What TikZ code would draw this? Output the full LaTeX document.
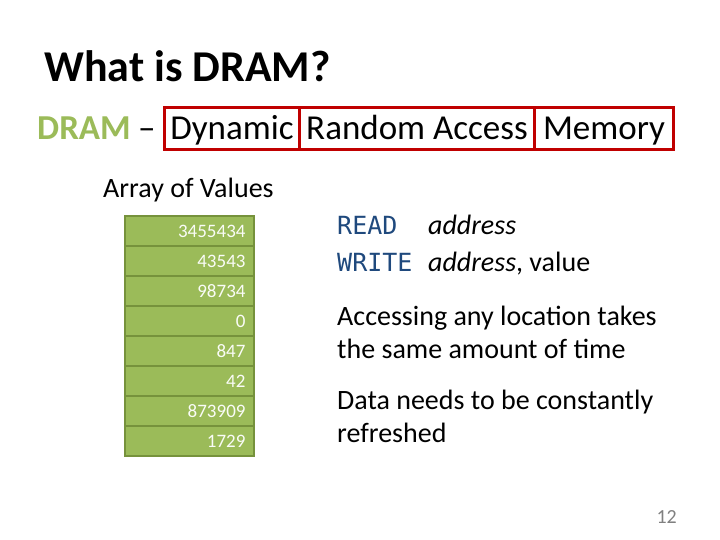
\documentclass[tikz,border=0pt]{standalone}
\usepackage{fontspec}
\setmainfont{Carlito}
\setmonofont{DejaVu Sans Mono}
\definecolor{dgreen}{HTML}{9BBB59}
\definecolor{bgreen}{HTML}{76923C}
\definecolor{dred}{HTML}{C00000}
\definecolor{dblue}{HTML}{1F497D}
\begin{document}
\begin{tikzpicture}[x=1pt,y=-1pt,
  cell/.style={draw=bgreen,line width=2.5pt,fill=dgreen,minimum width=129pt,minimum height=30pt,inner sep=0pt,text width=112pt,align=right,text=white!95!dgreen,font=\fontsize{19}{19}\selectfont},
  rbox/.style={draw=dred,line width=3pt,minimum height=42pt,inner sep=0pt,anchor=west},
  boxtext/.style={anchor=base,inner sep=0pt,font=\fontsize{35}{35}\selectfont},
  body/.style={anchor=base west,font=\fontsize{28}{33}\selectfont,inner sep=0pt},
  cmd/.style={text=dblue,font=\ttfamily\fontsize{25}{25}\selectfont}]
\useasboundingbox (0,0) rectangle (720,540);
\node[anchor=base west,inner sep=0pt,font=\fontsize{44}{44}\selectfont\bfseries] (title) at (44,82) {What is DRAM?};
\node[anchor=base west,inner sep=0pt,font=\fontsize{35}{35}\selectfont\bfseries,text=dgreen] (dram) at (37,140) {DRAM};
\node[anchor=base west,inner sep=0pt,font=\fontsize{35}{35}\selectfont] (dash) at (138,140) {–};
\node[rbox,minimum width=135pt] (b1) at (163,129) {};
\node[rbox,minimum width=235pt] (b2) at (298,129) {};
\node[rbox,minimum width=139pt] (b3) at (533,129) {};
\node[boxtext] at ([yshift=-11pt]b1.center) {Dynamic};
\node[boxtext] at ([yshift=-11pt]b2.center) {Random Access};
\node[boxtext] at ([yshift=-11pt]b3.center) {Memory};
\node[anchor=base west,inner sep=0pt,font=\fontsize{28}{28}\selectfont] (arr) at (103,198) {Array of Values};
\foreach \v [count=\i] in {3455434,43543,98734,0,847,42,873909,1729}{
  \node[cell] (c\i) at (189.5,{201+30*\i}) {\v};
}
\node[cmd,anchor=base west,inner sep=0pt] (rd) at (337,235) {READ};
\node[body] (rda) at (428,235) {\textit{address}};
\node[cmd,anchor=base west,inner sep=0pt] (wr) at (337,271) {WRITE};
\node[body] (wra) at (428,271) {\textit{address}, value};
\node[body,align=left] (acc) at (337,325) {Accessing any location takes};
\node[body,align=left] (acc2) at (337,358) {the same amount of time};
\node[body,align=left] (dat) at (337,409) {Data needs to be constantly};
\node[body,align=left] (dat2) at (337,442) {refreshed};
\node[anchor=base east,inner sep=0pt,text=gray,font=\fontsize{20}{20}\selectfont] (pg) at (677,523) {12};
\end{tikzpicture}
\end{document}
